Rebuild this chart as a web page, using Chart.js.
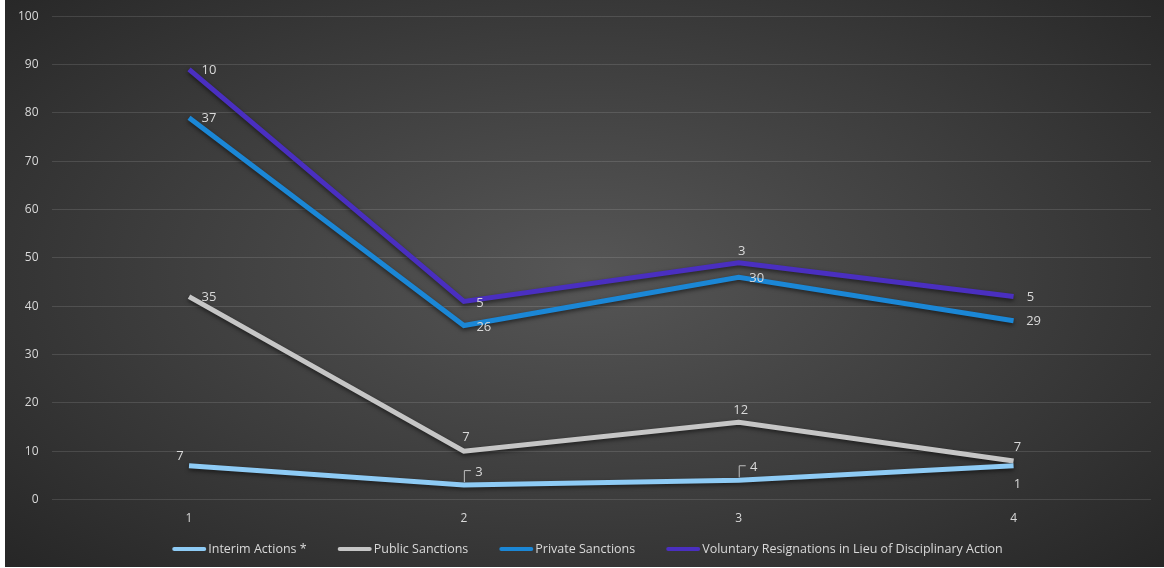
<!DOCTYPE html>
<html>
<head>
<meta charset="utf-8">
<script src="https://cdn.jsdelivr.net/npm/chart.js@4"></script>
<style>
  html, body { margin: 0; padding: 0; background: #fff; }
  #wrap {
    position: absolute; left: 5px; top: 0; width: 1159px; height: 567px; overflow: hidden;
    background: radial-gradient(ellipse 70% 75% at 50% 48%, #565656 0%, #3c3c3c 55%, #262626 100%);
  }
  #inner { position: absolute; left: 0; top: -4px; width: 1159px; height: 571px; }
</style>
</head>
<body>
<div id="wrap"><div id="inner"><canvas id="myChart"></canvas></div></div>
<script>
const categories = ['1', '2', '3', '4'];
const interimActions = [7, 3, 4, 7];
const publicSanctions = [35, 7, 12, 1];
const privateSanctions = [37, 26, 30, 29];
const voluntaryResignations = [10, 5, 3, 5];

// label offsets from each point, [dx, dy]
const labelOffsets = [
  [[-9, -9], [15, -13], [15, -13], [4, -18]],
  [[20, 1], [2, -14], [2, -12], [4, 23]],
  [[20, 1], [20, 2], [18, 1], [20, 1]],
  [[20, 1], [16, 2], [3, -11], [17, 1]],
];
// small leader brackets (series index, point index)
const leaders = [[0, 1], [0, 2]];
const FONT = '"Open Sans", sans-serif';

const shadowPlugin = {
  id: 'shadow',
  beforeDatasetDraw(chart) {
    const ctx = chart.ctx;
    ctx.save();
    ctx.shadowColor = 'rgba(0,0,0,0.55)';
    ctx.shadowBlur = 4;
    ctx.shadowOffsetY = 2;
  },
  afterDatasetDraw(chart) {
    chart.ctx.restore();
  },
};

const labelPlugin = {
  id: 'valueLabels',
  afterDatasetsDraw(chart) {
    const ctx = chart.ctx;
    ctx.save();
    ctx.font = '13px ' + FONT;
    ctx.fillStyle = '#d9d9d9';
    ctx.textAlign = 'center';
    ctx.textBaseline = 'middle';
    chart.data.datasets.forEach((ds, i) => {
      const meta = chart.getDatasetMeta(i);
      meta.data.forEach((pt, j) => {
        const off = labelOffsets[i][j];
        ctx.fillText(String(ds.data[j]), pt.x + off[0], pt.y + off[1]);
      });
    });
    ctx.strokeStyle = '#bfbfbf';
    ctx.lineWidth = 1;
    leaders.forEach(([i, j]) => {
      const pt = chart.getDatasetMeta(i).data[j];
      ctx.beginPath();
      ctx.moveTo(pt.x + 0.5, pt.y - 3);
      ctx.lineTo(pt.x + 0.5, pt.y - 14.5);
      ctx.lineTo(pt.x + 7, pt.y - 14.5);
      ctx.stroke();
    });
    ctx.restore();
  },
};

// excel-like legend: short line, small gap, text, wide gap
const legendPlugin = {
  id: 'xlLegend',
  afterDraw(chart) {
    const ctx = chart.ctx;
    const sets = chart.data.datasets;
    const lineW = 34;
    const gap = 2;
    const itemGap = 31;
    ctx.save();
    ctx.font = '12.5px ' + FONT;
    const widths = sets.map((ds) => lineW + gap + ctx.measureText(ds.label).width);
    const total = widths.reduce((a, b) => a + b, 0) + itemGap * (sets.length - 1);
    let x = chart.width / 2 - total / 2 + 3;
    const y = 553;
    ctx.textBaseline = 'middle';
    ctx.textAlign = 'left';
    sets.forEach((ds, i) => {
      ctx.strokeStyle = ds.borderColor;
      ctx.lineWidth = 4;
      ctx.lineCap = 'round';
      ctx.beginPath();
      ctx.moveTo(x + 2, y);
      ctx.lineTo(x + lineW - 2, y);
      ctx.stroke();
      ctx.fillStyle = '#d9d9d9';
      ctx.fillText(ds.label, x + lineW + gap, y);
      x += widths[i] + itemGap;
    });
    ctx.restore();
  },
};

const makeSet = (label, data, color) => ({
  label,
  data,
  borderColor: color,
  backgroundColor: color,
  borderWidth: 5,
  pointRadius: 0,
  fill: false,
  tension: 0,
});

const ctx = document.getElementById('myChart').getContext('2d');
const myChart = new Chart(ctx, {
  type: 'line',
  data: {
    labels: categories,
    datasets: [
      makeSet('Interim Actions *', interimActions, '#8ecbf5'),
      makeSet('Public Sanctions', publicSanctions, '#c6c6c6'),
      makeSet('Private Sanctions', privateSanctions, '#1b87d6'),
      makeSet('Voluntary Resignations in Lieu of Disciplinary Action', voluntaryResignations, '#4a2fc0'),
    ],
  },
  options: {
    responsive: true,
    maintainAspectRatio: false,
    animation: false,
    layout: { padding: { left: 0, right: 13, top: 0, bottom: 37 } },
    plugins: {
      legend: { display: false },
      tooltip: { enabled: false },
    },
    scales: {
      x: {
        offset: true,
        grid: { display: false },
        border: { display: false },
        ticks: { color: '#d9d9d9', font: { size: 12, family: FONT }, padding: 4 },
      },
      y: {
        stacked: true,
        min: 0,
        max: 100,
        grid: { color: 'rgba(255,255,255,0.12)', lineWidth: 1, drawTicks: false },
        border: { display: false },
        ticks: { stepSize: 10, color: '#d9d9d9', font: { size: 12, family: FONT }, padding: 13 },
      },
    },
  },
  plugins: [shadowPlugin, labelPlugin, legendPlugin],
});
</script>
</body>
</html>
